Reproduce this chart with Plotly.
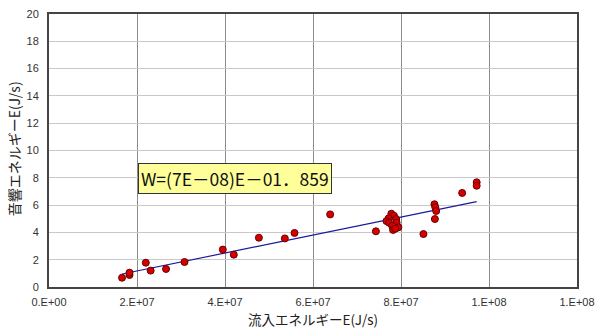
import plotly.graph_objects as go

# Data
inflow_E = [1.66e7, 1.83e7, 1.83e7, 2.20e7, 2.31e7, 2.66e7, 3.08e7, 3.95e7, 4.20e7,
            4.77e7, 5.36e7, 5.58e7, 6.39e7, 7.43e7, 7.78e7, 7.84e7, 7.72e7, 7.67e7,
            7.89e7, 7.73e7, 7.90e7, 7.80e7, 7.94e7, 7.82e7, 7.87e7, 8.51e7, 8.76e7,
            8.78e7, 8.80e7, 8.77e7, 9.39e7, 9.72e7, 9.72e7]
acoustic_W = [0.68, 0.88, 1.05, 1.78, 1.20, 1.32, 1.83, 2.74, 2.37,
              3.61, 3.56, 3.96, 5.32, 4.08, 5.37, 5.22, 5.03, 4.83,
              4.98, 4.71, 4.71, 4.47, 4.37, 4.18, 4.27, 3.88, 6.06,
              5.84, 5.57, 4.98, 6.89, 7.67, 7.42]
trend_x = [1.66e7, 9.72e7]
trend_y = [0.95, 6.25]

x_tickvals = [0, 2e7, 4e7, 6e7, 8e7, 1e8, 1.2e8]
x_ticktext = ["0.E+00", "2.E+07", "4.E+07", "6.E+07", "8.E+07", "1.E+08", "1.E+08"]
y_tickvals = list(range(0, 21, 2))

eq_text = "W=(7E－08)E－01．859"
x_title = "流入エネルギーE(J/s)"
y_title = "音響エネルギーE(J/s)"

fig = go.Figure()
fig.add_trace(go.Scatter(x=trend_x, y=trend_y, mode="lines",
                         line=dict(color="#1a1a99", width=1.2), showlegend=False,
                         hoverinfo="skip"))
fig.add_trace(go.Scatter(x=inflow_E, y=acoustic_W, mode="markers",
                         marker=dict(color="#d40000", size=7,
                                     line=dict(color="#6a0000", width=1)),
                         showlegend=False))

fig.add_annotation(x=4.22e7, y=7.97, xref="x", yref="y", text=eq_text,
                   showarrow=False, bgcolor="#ffff99", bordercolor="#333333",
                   borderwidth=1, borderpad=2,
                   font=dict(family="Noto Sans CJK JP", size=17.5, color="#111111"))

title_font = dict(family="Noto Sans CJK JP", size=13.5, color="#222222")
fig.add_annotation(x=0.5, y=-0.119, xref="paper", yref="paper", text=x_title,
                   showarrow=False, xanchor="center", yanchor="middle", font=title_font)
fig.add_annotation(x=-0.066, y=0.505, xref="paper", yref="paper", text=y_title,
                   showarrow=False, xanchor="center", yanchor="middle", textangle=-90,
                   font=dict(family="Noto Sans CJK JP", size=14, color="#222222"))

fig.update_layout(
    width=596, height=329,
    margin=dict(l=49, r=19, t=14, b=42),
    paper_bgcolor="white", plot_bgcolor="white",
    font=dict(family="Liberation Sans, Arial", size=11, color="#333333"),
)
fig.update_xaxes(range=[0, 1.2e8], tickvals=x_tickvals, ticktext=x_ticktext,
                 showgrid=True, gridcolor="#8c8c8c", gridwidth=1,
                 showline=True, linecolor="#444444", linewidth=2, mirror=True,
                 zeroline=False, ticks="", ticklabelstandoff=4, automargin=False)
fig.update_yaxes(range=[0, 20], tickvals=y_tickvals,
                 showgrid=True, gridcolor="#c8c8c8", gridwidth=1,
                 showline=True, linecolor="#444444", linewidth=2, mirror=True,
                 zeroline=False, ticks="", ticklabelstandoff=6, automargin=False)

fig.write_html("out.html")
